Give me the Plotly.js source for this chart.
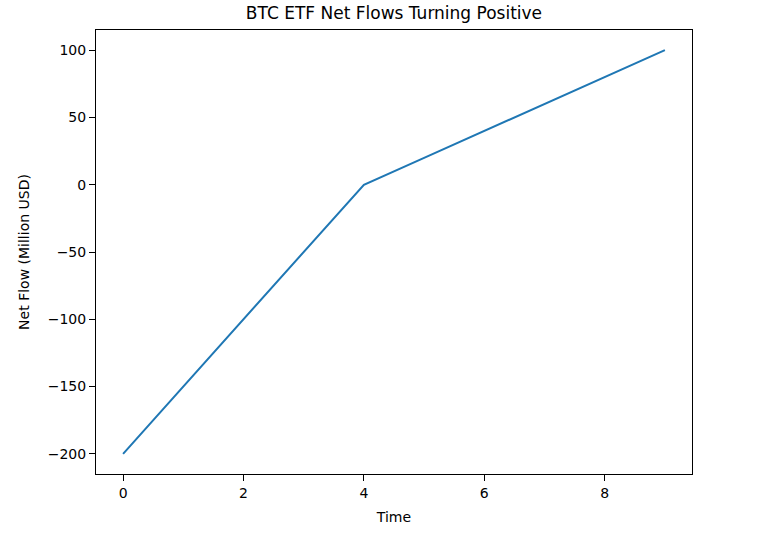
<!DOCTYPE html>
<html>
<head>
<meta charset="utf-8">
<script src="https://cdn.plot.ly/plotly-3.0.1.min.js"></script>
<style>html,body{margin:0;padding:0;background:#fff;}#chart{width:768px;height:536px;}</style>
</head>
<body>
<div id="chart"></div>
<script>
const timeSteps = [0, 1, 2, 3, 4, 5, 6, 7, 8, 9];
const netFlows = [-200, -150, -100, -50, 0, 20, 40, 60, 80, 100];
const xTicks = [0, 2, 4, 6, 8];
const yTicks = [-200, -150, -100, -50, 0, 50, 100];

const axisCommon = {
  showline: true, mirror: true, linecolor: '#000', linewidth: 1,
  ticks: 'outside', ticklen: 6, tickwidth: 1, tickcolor: '#000',
  showgrid: false, zeroline: false,
  tickfont: {family: 'DejaVu Sans', size: 14, color: '#000'}
};

Plotly.newPlot('chart', [{
  x: timeSteps, y: netFlows, type: 'scatter', mode: 'lines',
  line: {color: '#1f77b4', width: 2}
}], {
  width: 768, height: 536,
  margin: {l: 96, r: 76, t: 30, b: 62},
  paper_bgcolor: '#fff', plot_bgcolor: '#fff',
  showlegend: false,
  title: {text: 'BTC ETF Net Flows Turning Positive', x: 0.513, xanchor: 'center', y: 0.975, yanchor: 'middle',
    font: {family: 'DejaVu Sans', size: 17, color: '#000'}},
  xaxis: Object.assign({}, axisCommon, {
    range: [-0.45, 9.45], tickvals: xTicks, ticktext: xTicks.map(String),
    title: {text: 'Time', font: {family: 'DejaVu Sans', size: 14, color: '#000'}, standoff: 12}
  }),
  yaxis: Object.assign({}, axisCommon, {
    range: [-215, 115], tickvals: yTicks, ticktext: yTicks.map(v => v < 0 ? '\u2212' + Math.abs(v) : String(v)),
    title: {text: 'Net Flow (Million USD)', font: {family: 'DejaVu Sans', size: 14, color: '#000'}, standoff: 14}
  })
}, {displayModeBar: false});
</script>
</body>
</html>
